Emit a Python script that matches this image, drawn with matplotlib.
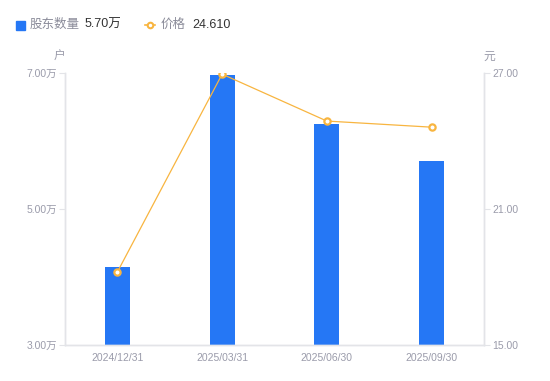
import matplotlib.pyplot as plt
from matplotlib.lines import Line2D
from matplotlib.patches import Rectangle

plt.rcParams['font.family'] = ['Liberation Sans', 'Noto Sans CJK SC', 'DejaVu Sans']

dates = ['2024/12/31', '2025/03/31', '2025/06/30', '2025/09/30']
holders = [4.15, 6.97, 6.25, 5.70]   # 万户
price = [18.22, 26.95, 24.88, 24.61]
left_ticks = [3, 5, 7]
left_labels = ['3.00万', '5.00万', '7.00万']
right_ticks = [15, 21, 27]
right_labels = ['15.00', '21.00', '27.00']

bar_color = '#2577F5'
line_color = '#F8B540'
tick_color = '#9A9BAA'
axis_color = '#E3E4E8'

fig = plt.figure(figsize=(5.5, 3.81), dpi=100)
ax = fig.add_axes([65 / 550, 36 / 381, 419 / 550, 272 / 381])
x = list(range(len(dates)))
ax.bar(x, holders, width=0.24, color=bar_color, zorder=2)
ax.set_xlim(-0.5, len(dates) - 0.5)
ax.set_ylim(3, 7)
ax.set_yticks(left_ticks)
ax.set_yticklabels(left_labels)
ax.set_xticks(x)
ax.set_xticklabels(dates)

ax2 = ax.twinx()
ax2.plot(x, price, color=line_color, lw=0.9, marker='o', ms=4.5,
         mfc='white', mec=line_color, mew=1.6, zorder=3)
ax2.set_ylim(15, 27)
ax2.set_yticks(right_ticks)
ax2.set_yticklabels(right_labels)

for a in (ax, ax2):
    for s in a.spines.values():
        s.set_color(axis_color)
        s.set_linewidth(1)
    a.spines['top'].set_visible(False)
    a.tick_params(colors=tick_color, labelsize=7.5, length=4, width=0.8)
    a.tick_params(axis='x', length=0, pad=6)
    for lbl in a.get_yticklabels() + a.get_xticklabels():
        lbl.set_color(tick_color)
ax.tick_params(axis='y', color=axis_color, pad=2)
ax2.tick_params(axis='y', color=axis_color, pad=2)

fig.text(59 / 550, 1 - 57 / 381, '户', fontsize=8.5, color=tick_color, ha='center', va='center')
fig.text(489 / 550, 1 - 57 / 381, '元', fontsize=8.5, color=tick_color, ha='center', va='center')

# legend
ly = 1 - 25 / 381
fig.patches.append(Rectangle((16 / 550, ly - 4.5 / 381), 9 / 550, 9 / 381,
                             transform=fig.transFigure, color=bar_color, figure=fig))
fig.text(30 / 550, ly, '股东数量', fontsize=9, color='#8A8B99', va='center')
fig.text(85 / 550, ly, '5.70万', fontsize=9, color='#333333', va='center')
fig.lines.append(Line2D([145 / 550, 155 / 550], [ly, ly],
                        transform=fig.transFigure, color=line_color, lw=1.2, figure=fig))
fig.lines.append(Line2D([150 / 550], [ly], transform=fig.transFigure,
                        color=line_color, marker='o', ms=4, mfc='white',
                        mec=line_color, mew=1.5, figure=fig))
fig.text(161 / 550, ly, '价格', fontsize=9, color='#8A8B99', va='center')
fig.text(192 / 550, ly, '24.610', fontsize=9, color='#333333', va='center')

fig.savefig('out.png', dpi=100)
